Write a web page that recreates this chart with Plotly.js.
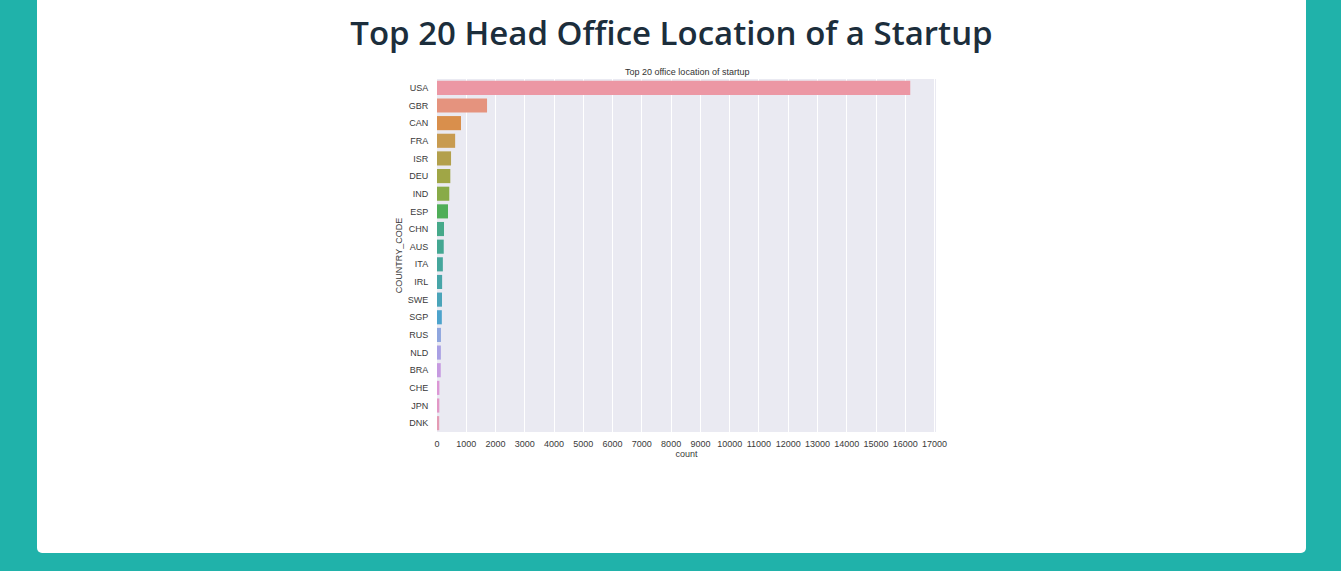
<!DOCTYPE html>
<html>
<head>
<meta charset="utf-8">
<script src="https://cdn.plot.ly/plotly-3.0.1.min.js"></script>
<style>
  html, body { margin: 0; padding: 0; background: #20b2aa; width: 1341px; height: 571px; overflow: hidden; }
  #card { position: absolute; left: 37px; top: -20px; width: 1269px; height: 573px; background: #ffffff; border-radius: 5px; }
  #chart { position: absolute; left: 37px; top: 0px; width: 1269px; height: 553px; }
</style>
</head>
<body>
<div id="card"></div>
<div id="chart"></div>
<script>
const countries = ["USA","GBR","CAN","FRA","ISR","DEU","IND","ESP","CHN","AUS","ITA","IRL","SWE","SGP","RUS","NLD","BRA","CHE","JPN","DNK"];
const counts = [16170, 1710, 820, 620, 480, 455, 420, 375, 240, 230, 200, 175, 170, 165, 135, 132, 128, 82, 80, 75];
const barColors = ["#ec97a4","#e5937e","#d98f4c","#c89b50","#b3a04c","#a0a646","#88ab48","#4fae58","#46a98a","#44a792","#45a69c","#47a5a8","#4aa4b9","#4da3cc","#8fa6de","#a9a0e4","#c69ae0","#dc97d5","#e298c6","#e49bb4"];
const xTicks = [0,1000,2000,3000,4000,5000,6000,7000,8000,9000,10000,11000,12000,13000,14000,15000,16000,17000];

const trace = {
  type: "bar",
  orientation: "h",
  y: countries,
  x: counts,
  marker: { color: barColors, line: { width: 0 } },
  hoverinfo: "x+y"
};

const smallFont = { family: "Liberation Sans, Arial, sans-serif", size: 9, color: "#3a3a3a" };

const layout = {
  width: 1269,
  height: 553,
  paper_bgcolor: "rgba(0,0,0,0)",
  plot_bgcolor: "#eaeaf2",
  margin: { l: 400, r: 370, t: 79, b: 121 },
  bargap: 0.2,
  showlegend: false,
  title: {
    text: "Top 20 Head Office Location of a Startup",
    font: { family: "Open Sans, Noto Sans, sans-serif", size: 33, color: "#1c2e3c", weight: 600 },
    x: 0.5, xanchor: "center",
    y: 1 - 33/553, yref: "container", yanchor: "middle"
  },
  xaxis: {
    range: [0, 17050],
    tickvals: xTicks,
    ticktext: xTicks.map(String),
    showgrid: true,
    gridcolor: "#ffffff",
    gridwidth: 1,
    zeroline: false,
    showline: false,
    ticks: "outside",
    ticklen: 3,
    tickcolor: "rgba(0,0,0,0)",
    tickfont: smallFont,
    title: { text: "count", font: smallFont, standoff: 1 }
  },
  yaxis: {
    type: "category",
    categoryorder: "array",
    categoryarray: countries,
    autorange: "reversed",
    showgrid: false,
    zeroline: false,
    showline: false,
    ticks: "outside",
    ticklen: 6,
    tickcolor: "rgba(0,0,0,0)",
    tickfont: smallFont,
    title: { text: "COUNTRY_CODE", font: smallFont, standoff: 3 }
  },
  annotations: [{
    text: "Top 20 office location of startup",
    xref: "paper", yref: "paper",
    x: 0.5, y: 1, xanchor: "center", yanchor: "bottom",
    yshift: 0,
    showarrow: false,
    font: { family: "Liberation Sans, Arial, sans-serif", size: 9, color: "#333333" }
  }]
};

Plotly.newPlot("chart", [trace], layout, { displayModeBar: false, responsive: false });
</script>
</body>
</html>
